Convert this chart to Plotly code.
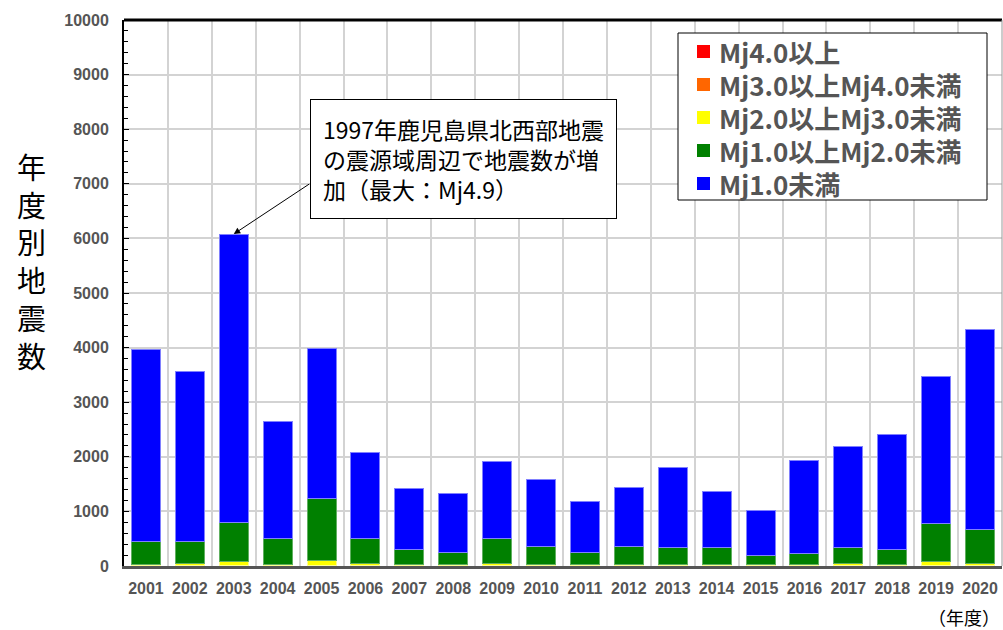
import plotly.graph_objects as go

years = list(range(2001, 2021))
red    = [0, 0, 1, 0, 0, 0, 0, 0, 0, 0, 0, 0, 0, 1, 0, 0, 0, 0, 0, 0]
orange = [3, 2, 10, 3, 8, 2, 2, 2, 3, 2, 2, 2, 2, 5, 2, 2, 4, 2, 6, 4]
yellow = [28, 50, 75, 27, 95, 40, 22, 28, 50, 18, 28, 28, 28, 20, 18, 18, 40, 22, 70, 48]
green  = [409, 388, 704, 470, 1127, 468, 287, 226, 454, 334, 214, 324, 306, 310, 181, 218, 292, 275, 711, 625]
blue   = [3530, 3130, 5290, 2140, 2760, 1560, 1109, 1074, 1413, 1236, 936, 1086, 1474, 1034, 819, 1702, 1854, 2111, 2683, 3663]

series = [
    ("Mj4.0以上", red, "#ff0000", "#ff8080"),
    ("Mj3.0以上Mj4.0未満", orange, "#ff6600", "#ffa070"),
    ("Mj2.0以上Mj3.0未満", yellow, "#ffff00", "#ffff90"),
    ("Mj1.0以上Mj2.0未満", green, "#008000", "#60b060"),
    ("Mj1.0未満", blue, "#0000ff", "#8080ff"),
]

W, H = 1003, 630
ML, MR, MT, MB = 124, 1, 20, 64
PW, PH = W - ML - MR, H - MT - MB
OFF = 0  # page body margin removed via post_script


def pxx(x):
    return (x - OFF - ML) / PW


def pxy(y):
    return 1 - (y - OFF - MT) / PH


fig = go.Figure()
for name, vals, col, edge in series:
    fig.add_trace(go.Bar(x=years, y=vals, name=name, showlegend=False,
                         marker=dict(color=col, line=dict(color=edge, width=1))))

fig.update_layout(
    width=W, height=H,
    margin=dict(l=ML, r=MR, t=MT, b=MB),
    barmode="stack", bargap=0.34,
    plot_bgcolor="white", paper_bgcolor="white",
    showlegend=False,
    xaxis=dict(range=[2000.5, 2020.5], tickmode="linear", tick0=2001, dtick=1,
               showgrid=False, showline=True, linecolor="#555555", linewidth=3,
               ticks="", ticklabelstandoff=6,
               tickfont=dict(family="Liberation Sans", size=16, color="#555555", weight="bold"),
               minor=dict(tick0=2000.5, dtick=1, showgrid=True, gridcolor="#d3d3d3", gridwidth=1.5),
               zeroline=False),
    yaxis=dict(range=[0, 10000], tickmode="linear", dtick=1000, tickformat="d",
               showgrid=True, gridcolor="#d3d3d3", gridwidth=1.5,
               showline=True, linecolor="black", linewidth=2,
               ticks="inside", ticklen=5, tickcolor="black", ticklabelstandoff=10,
               minor=dict(dtick=200, ticks="inside", ticklen=4, tickcolor="black", showgrid=False),
               tickfont=dict(family="Liberation Sans", size=16, color="#555555", weight="bold"),
               zeroline=False),
)

# frame: black top edge, grey right edge
fig.add_shape(type="line", xref="paper", yref="paper", x0=0, x1=1, y0=1, y1=1,
              line=dict(color="black", width=3), layer="above")
fig.add_shape(type="line", xref="paper", yref="paper", x0=1, x1=1, y0=0, y1=1,
              line=dict(color="#999999", width=1), layer="above")

# legend box (custom, to match the reference's compact spacing)
fig.add_shape(type="rect", xref="paper", yref="paper",
              x0=pxx(678), x1=pxx(987), y0=pxy(200), y1=pxy(33),
              line=dict(color="black", width=1), fillcolor="white", layer="above")
row_y = [51, 84, 117, 150, 183]
for (name, vals, col, edge), ry in zip(series, row_y):
    fig.add_shape(type="rect", xref="paper", yref="paper",
                  x0=pxx(697), x1=pxx(710), y0=pxy(ry + 7), y1=pxy(ry - 6),
                  line=dict(width=0), fillcolor=col, layer="above")
    fig.add_annotation(xref="paper", yref="paper", x=pxx(717), y=pxy(ry),
                       xanchor="left", yanchor="middle", showarrow=False, text=name,
                       font=dict(family="Noto Sans CJK JP", size=26, color="#555555", weight="bold"))

fig.add_annotation(
    xref="paper", yref="paper", x=pxx(31), y=pxy(260), xanchor="center", yanchor="middle",
    text="年<br>度<br>別<br>地<br>震<br>数", showarrow=False,
    font=dict(family="Noto Sans CJK JP", size=29, color="black"))

fig.add_annotation(
    xref="paper", yref="paper", x=pxx(964), y=pxy(602), xanchor="center", yanchor="top",
    text="（年度）", showarrow=False,
    font=dict(family="Noto Sans CJK JP", size=18, color="black"))

# text box
fig.add_annotation(
    xref="x", yref="y", x=2003, y=6080,
    text="1997年鹿児島県北西部地震<br>の震源域周辺で地震数が増<br>加（最大：Mj4.9）",
    align="left", showarrow=False, xshift=230, yshift=75,
    bgcolor="white", bordercolor="black", borderwidth=1, borderpad=12,
    font=dict(family="Noto Sans CJK JP", size=23, color="black"))

# arrow
fig.add_annotation(
    xref="x", yref="y", x=2003, y=6080, ax=77, ay=-51,
    text="", showarrow=True, arrowhead=2, arrowsize=1.3, arrowwidth=1, arrowcolor="black")

fig.write_html("out.html",
               config={"displayModeBar": False},
               post_script="document.body.style.margin='0';document.body.style.overflow='hidden';")
